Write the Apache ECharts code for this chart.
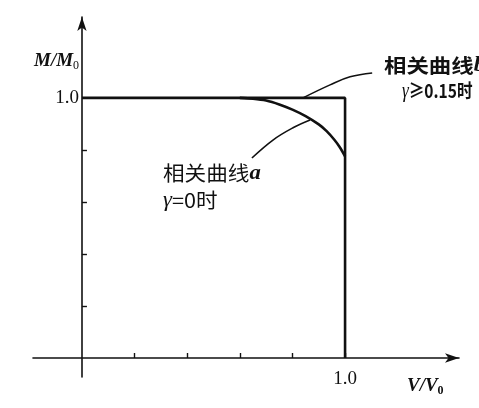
<!DOCTYPE html>
<html><head><meta charset="utf-8">
<script src="https://cdn.jsdelivr.net/npm/echarts@6/dist/echarts.min.js"></script>
<style>html,body{margin:0;padding:0;background:#fff}#c{width:479px;height:408px}</style>
</head><body><div id="c"></div>
<script>
// Data (V/V0, M/M0)
const curveB = [[0, 1.0], [1.0, 1.0], [1.0, 0]];
const curveA = [[0.60, 1.0], [0.65, 0.997], [0.70, 0.99], [0.75, 0.975], [0.80, 0.955], [0.85, 0.93], [0.90, 0.898], [0.93, 0.872], [0.96, 0.838], [0.98, 0.81], [1.0, 0.775]];
const leaderA = [[0.646, 0.769], [0.726, 0.838], [0.802, 0.885], [0.867, 0.915]];
const leaderB = [[0.840, 1.0], [0.943, 1.05], [1.019, 1.081], [1.103, 1.096]];
const xTicks = [0.2, 0.4, 0.6, 0.8, 1.0];
const yTicks = [0.2, 0.4, 0.6, 0.8];
const xLabels = [1.0];
const yLabels = [1.0];
const labelA = ['相关曲线', 'a', 'γ', '=0时'];
const labelB = ['相关曲线', 'b', 'γ', '≥0.15时'];

const chart = echarts.init(document.getElementById('c'), null, {renderer: 'canvas'});
const serif = '"Liberation Serif","DejaVu Serif",serif';
const cjk = '"Noto Sans CJK SC","Noto Sans",sans-serif';
const ink = '#111';
chart.setOption({
  animation: false,
  backgroundColor: '#fff',
  grid: {left: 33, right: 20, top: 17, bottom: 31},
  xAxis: {
    type: 'value', min: -0.186, max: 1.433,
    splitLine: {show: false},
    axisLine: {onZero: true, lineStyle: {color: ink, width: 1.6}, symbol: ['none', 'arrow'], symbolSize: [7, 14]},
    axisTick: {show: true, inside: true, length: 5, lineStyle: {color: ink, width: 1.4}, customValues: xTicks},
    axisLabel: {customValues: xLabels, formatter: v => v.toFixed(1), color: ink, fontFamily: serif, fontSize: 19, margin: -7}
  },
  yAxis: {
    type: 'value', min: -0.073, max: 1.311,
    splitLine: {show: false},
    axisLine: {onZero: true, lineStyle: {color: ink, width: 1.6}, symbol: ['none', 'arrow'], symbolSize: [7, 14]},
    axisTick: {show: true, inside: true, length: 5, lineStyle: {color: ink, width: 1.4}, customValues: yTicks},
    axisLabel: {customValues: yLabels, formatter: v => v.toFixed(1), color: ink, fontFamily: serif, fontSize: 19, margin: -46}
  },
  series: [
    {type: 'line', data: curveB, symbol: 'none', lineStyle: {color: ink, width: 2.6}},
    {type: 'line', data: curveA, symbol: 'none', smooth: 0.3, lineStyle: {color: ink, width: 2.6}},
    {type: 'line', data: leaderA, symbol: 'none', smooth: 0.4, lineStyle: {color: ink, width: 1.6}},
    {type: 'line', data: leaderB, symbol: 'none', smooth: 0.4, lineStyle: {color: ink, width: 1.6}}
  ],
  graphic: [
    {type: 'text', left: 34, top: 52, style: {
      text: '{i|M/M}{s|0}', rich: {
        i: {fontFamily: serif, fontStyle: 'italic', fontWeight: 'bold', fontSize: 19, fill: ink},
        s: {fontFamily: serif, fontSize: 12, fill: ink, padding: [8, 0, 0, 0]}
      }}},
    {type: 'text', left: 407, top: 377, style: {
      text: '{i|V/V}{s|0}', rich: {
        i: {fontFamily: serif, fontStyle: 'italic', fontWeight: 'bold', fontSize: 19, fill: ink},
        s: {fontFamily: serif, fontSize: 12, fontWeight: 'bold', fill: ink, padding: [8, 0, 0, 0]}
      }}},
    {type: 'text', x: 163, y: 160, scaleX: 1.08, style: {
      text: '{c|' + labelA[0] + '}{i|' + labelA[1] + '}\n{g|' + labelA[2] + '}{c|' + labelA[3] + '}', rich: {
        c: {fontFamily: cjk, fontSize: 20, fill: ink, lineHeight: 27},
        i: {fontFamily: serif, fontStyle: 'italic', fontWeight: 'bold', fontSize: 21, fill: ink, lineHeight: 27},
        g: {fontFamily: serif, fontStyle: 'italic', fontSize: 21, fill: ink, lineHeight: 27}
      }}},
    {type: 'text', x: 384, y: 55, scaleX: 1.18, style: {
      text: '{c|' + labelB[0] + '}{i|' + labelB[1] + '}', rich: {
        c: {fontFamily: cjk, fontSize: 19, fontWeight: 'bold', fill: ink, lineHeight: 22},
        i: {fontFamily: serif, fontStyle: 'italic', fontWeight: 'bold', fontSize: 20, fill: ink, lineHeight: 22}
      }}},
    {type: 'text', x: 402, y: 80, scaleX: 0.82, style: {
      text: '{g|' + labelB[2] + '}{c|' + labelB[3] + '}', rich: {
        c: {fontFamily: cjk, fontSize: 19, fontWeight: 'bold', fill: ink, lineHeight: 22},
        g: {fontFamily: serif, fontStyle: 'italic', fontSize: 21, fill: ink, lineHeight: 22}
      }}}
  ]
});
</script></body></html>
